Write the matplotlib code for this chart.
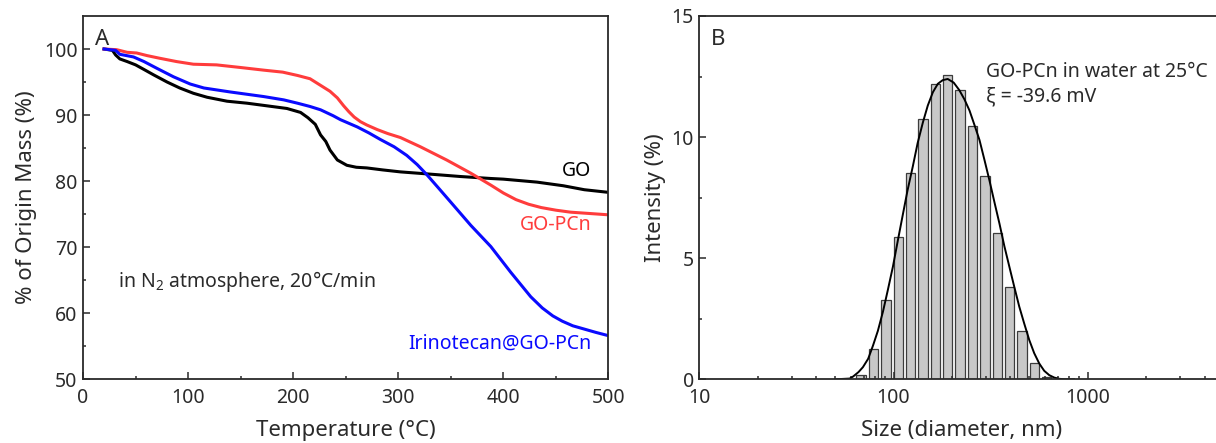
import matplotlib
matplotlib.use("Agg")
import numpy as np
import matplotlib.pyplot as plt
from matplotlib.ticker import MultipleLocator, LogLocator, NullFormatter, FixedLocator, FixedFormatter

plt.rcParams['font.family'] = ['Noto Sans', 'DejaVu Sans']
plt.rcParams['mathtext.fontset'] = 'custom'
plt.rcParams['mathtext.rm'] = 'Noto Sans'
plt.rcParams['axes.linewidth'] = 1.3

# --- TGA curves (temperature in degC, mass remaining in %) ---
go_temp = [20, 28, 31, 35, 42, 50, 58, 67, 80, 92, 105, 118, 137, 156, 175, 194,
           207, 214, 221, 226, 231, 235, 242, 251, 260, 270, 285, 302, 327, 359,
           388, 400, 432, 457, 477, 500]
go_mass = [100, 99.8, 99.1, 98.5, 98.1, 97.6, 96.9, 96.1, 95.0, 94.1, 93.3, 92.7,
           92.1, 91.8, 91.4, 91.0, 90.4, 89.6, 88.6, 87.0, 86.0, 84.7, 83.2, 82.4,
           82.1, 82.0, 81.7, 81.4, 81.1, 80.7, 80.4, 80.3, 79.85, 79.3, 78.7, 78.3]

gopcn_temp = [20, 32, 42, 51, 61, 73, 89, 105, 127, 150, 172, 190, 204, 216, 225,
              235, 242, 248, 253, 258, 264, 270, 280, 290, 302, 321, 346, 369, 388,
              400, 412, 424, 436, 450, 464, 482, 500]
gopcn_mass = [100, 99.9, 99.5, 99.4, 99.0, 98.6, 98.1, 97.7, 97.6, 97.2, 96.8, 96.5,
              96.0, 95.5, 94.6, 93.6, 92.6, 91.4, 90.5, 89.7, 89.0, 88.5, 87.8, 87.2,
              86.6, 85.2, 83.2, 81.2, 79.4, 78.2, 77.2, 76.5, 76.0, 75.6, 75.3, 75.1,
              74.9]

irino_temp = [20, 31, 35, 48, 58, 70, 86, 102, 115, 140, 172, 191, 204, 216, 226,
              238, 245, 261, 272, 283, 296, 308, 318, 327, 338, 350, 369, 388, 407,
              426, 437, 447, 456, 466, 477, 488, 500]
irino_mass = [100, 99.8, 99.2, 98.8, 98.1, 97.1, 95.8, 94.7, 94.1, 93.5, 92.8, 92.3,
              91.8, 91.3, 90.8, 89.9, 89.3, 88.2, 87.3, 86.3, 85.2, 83.9, 82.5, 81.0,
              79.0, 76.8, 73.3, 70.1, 66.2, 62.5, 60.8, 59.6, 58.8, 58.1, 57.6, 57.1,
              56.6]

# --- DLS size distribution (Zetasizer size classes, nm / intensity %) ---
dls_size = [68.06, 78.82, 91.28, 105.7, 122.4, 141.8, 164.2, 190.1, 220.2, 255.0,
            295.3, 342.0, 396.1, 458.7, 531.2, 615.1]
dls_intensity = [0.17, 1.27, 3.29, 5.88, 8.53, 10.73, 12.18, 12.56, 11.94, 10.47,
                 8.39, 6.06, 3.81, 1.98, 0.69, 0.1]

# fitted log-normal curve
fit_size = [50, 59.4, 62, 66, 69.5, 74, 78.4, 83, 88.2, 93.5, 99.2, 105, 111.6, 118,
            125.7, 133, 141.5, 150, 159.3, 169, 179, 190, 204, 218, 232, 246, 261,
            277, 294, 312, 331, 351, 372, 395, 419, 444, 471, 500, 530, 563, 597,
            634, 673, 713, 760, 850]
fit_intensity = [0, 0.03, 0.12, 0.3, 0.5, 0.85, 1.4, 2.0, 2.8, 3.7, 4.65, 5.7, 6.8,
                 7.8, 8.8, 9.75, 10.6, 11.3, 11.85, 12.2, 12.35, 12.4, 12.25, 11.94,
                 11.55, 11.1, 10.5, 9.88, 9.05, 8.2, 7.3, 6.43, 5.5, 4.64, 3.8, 3.0,
                 2.3, 1.62, 1.08, 0.65, 0.35, 0.17, 0.07, 0.02, 0.0, 0.0]

RED = '#ff3c3c'
BLUE = '#0a0aff'
AXIS = '#2a2a2a'

fig = plt.figure(figsize=(12.16, 4.43), dpi=100)
ax1 = fig.add_axes([0.0683, 0.1438, 0.4321, 0.8201])
ax2 = fig.add_axes([0.5752, 0.1438, 0.4309, 0.8201])

# ---------------- panel A ----------------
ax1.plot(go_temp, go_mass, color='black', lw=2.2)
ax1.plot(gopcn_temp, gopcn_mass, color=RED, lw=2.2)
ax1.plot(irino_temp, irino_mass, color=BLUE, lw=2.2)

ax1.set_xlim(0, 500)
ax1.set_ylim(50, 105)
ax1.xaxis.set_major_locator(MultipleLocator(100))
ax1.xaxis.set_minor_locator(MultipleLocator(50))
ax1.yaxis.set_major_locator(FixedLocator([50, 60, 70, 80, 90, 100]))
ax1.yaxis.set_minor_locator(FixedLocator([55, 65, 75, 85, 95]))
ax1.set_xlabel('Temperature (°C)', fontsize=16, color=AXIS)
ax1.set_ylabel('% of Origin Mass (%)', fontsize=16, color=AXIS)
ax1.yaxis.set_label_coords(-0.088, 0.5)
ax1.xaxis.set_label_coords(0.5, -0.112)

ax1.text(0.022, 0.965, 'A', transform=ax1.transAxes, fontsize=16, va='top', color=AXIS)
ax1.text(0.067, 0.27, 'in N$_2$ atmosphere, 20°C/min', transform=ax1.transAxes,
         fontsize=14, va='center', color=AXIS)
ax1.text(0.968, 0.572, 'GO', transform=ax1.transAxes, fontsize=14,
         ha='right', va='center', color='black')
ax1.text(0.968, 0.425, 'GO-PCn', transform=ax1.transAxes, fontsize=14,
         ha='right', va='center', color=RED)
ax1.text(0.968, 0.097, 'Irinotecan@GO-PCn', transform=ax1.transAxes, fontsize=14,
         ha='right', va='center', color=BLUE)

# ---------------- panel B ----------------
half = 10 ** 0.024
lefts = [s / half for s in dls_size]
widths = [s * half - s / half for s in dls_size]
ax2.bar(lefts, dls_intensity, width=widths, align='edge', color='#c8c8c8',
        edgecolor='#3c3c3c', linewidth=0.9)
ax2.plot(fit_size, fit_intensity, color='black', lw=1.4)

ax2.set_xscale('log')
ax2.set_xlim(10, 5000)
ax2.set_ylim(0, 15)
ax2.xaxis.set_major_locator(FixedLocator([10, 100, 1000]))
ax2.xaxis.set_major_formatter(FixedFormatter(['10', '100', '1000']))
ax2.xaxis.set_minor_locator(LogLocator(base=10, subs=np.arange(2, 10)))
ax2.xaxis.set_minor_formatter(NullFormatter())
ax2.yaxis.set_major_locator(MultipleLocator(5))
ax2.yaxis.set_minor_locator(MultipleLocator(2.5))
ax2.set_xlabel('Size (diameter, nm)', fontsize=16, color=AXIS)
ax2.set_ylabel('Intensity (%)', fontsize=16, color=AXIS)
ax2.yaxis.set_label_coords(-0.064, 0.5)
ax2.xaxis.set_label_coords(0.5, -0.112)
ax2.spines['right'].set_visible(False)

ax2.text(0.022, 0.965, 'B', transform=ax2.transAxes, fontsize=16, va='top', color=AXIS)
ax2.text(0.546, 0.845, 'GO-PCn in water at 25°C', transform=ax2.transAxes,
         fontsize=14, va='center', color=AXIS)
ax2.text(0.546, 0.778, 'ξ = -39.6 mV', transform=ax2.transAxes,
         fontsize=14, va='center', color=AXIS)

for ax in (ax1, ax2):
    ax.tick_params(which='both', direction='in', top=False, right=False,
                   labelsize=14, colors=AXIS, width=1.1)
    ax.tick_params(which='major', length=4.8)
    ax.tick_params(which='minor', length=2.4)
    ax.tick_params(axis='x', pad=6.5)
    ax.tick_params(axis='y', pad=4)
    for sp in ax.spines.values():
        sp.set_color(AXIS)

fig.savefig('out.png', dpi=100)
